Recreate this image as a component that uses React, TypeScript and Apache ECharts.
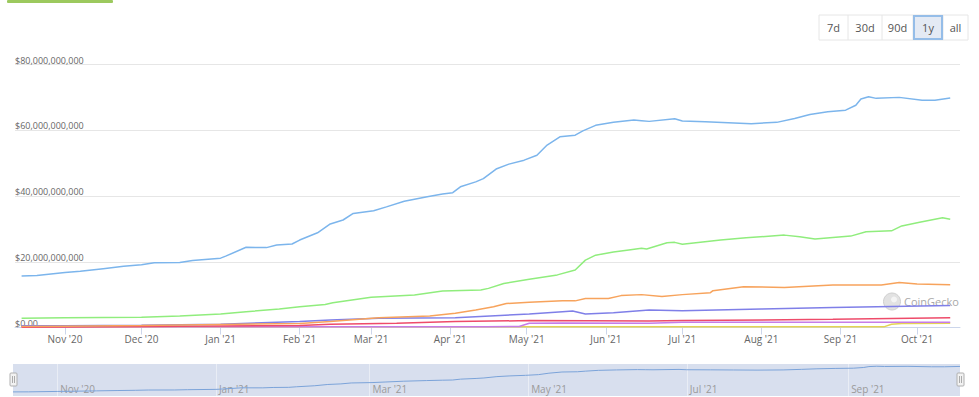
import React, { useEffect, useRef } from "react";
import * as echarts from "echarts";

// ---- Data (values in billions of USD) ----
const usdtDates = ["2020-10-15","2020-10-21","2020-11-01","2020-11-07","2020-11-16","2020-11-24","2020-12-01","2020-12-06","2020-12-16","2020-12-21","2021-01-01","2021-01-03","2021-01-11","2021-01-19","2021-01-23","2021-01-29","2021-02-01","2021-02-08","2021-02-13","2021-02-18","2021-02-22","2021-03-02","2021-03-07","2021-03-14","2021-03-23","2021-03-29","2021-04-02","2021-04-05","2021-04-11","2021-04-14","2021-04-19","2021-04-24","2021-04-30","2021-05-05","2021-05-09","2021-05-14","2021-05-20","2021-05-23","2021-05-28","2021-06-04","2021-06-12","2021-06-15","2021-06-18","2021-06-28","2021-07-01","2021-07-10","2021-07-19","2021-07-28","2021-08-07","2021-08-14","2021-08-20","2021-08-27","2021-09-03","2021-09-07","2021-09-09","2021-09-12","2021-09-15","2021-09-24","2021-10-03","2021-10-08","2021-10-14"];
const usdtValues = [15.7,15.8,16.7,17.1,17.9,18.6,19.1,19.7,19.8,20.4,21.1,21.7,24.4,24.3,25.1,25.4,26.6,28.8,31.5,32.7,34.7,35.5,36.7,38.4,39.8,40.6,41.0,42.8,44.3,45.3,48.2,49.7,50.9,52.4,55.5,58.0,58.5,59.8,61.5,62.4,63.1,62.9,62.7,63.5,62.8,62.6,62.3,62.0,62.4,63.6,64.8,65.6,66.1,67.6,69.5,70.2,69.7,70.0,69.1,69.1,69.8];

const usdcDates = ["2020-10-15","2020-11-01","2020-12-01","2020-12-16","2021-01-01","2021-01-11","2021-01-24","2021-02-01","2021-02-11","2021-02-14","2021-03-01","2021-03-18","2021-03-29","2021-04-13","2021-04-16","2021-04-22","2021-05-02","2021-05-13","2021-05-20","2021-05-24","2021-05-28","2021-06-04","2021-06-10","2021-06-15","2021-06-17","2021-06-25","2021-06-28","2021-07-01","2021-07-16","2021-07-26","2021-08-10","2021-08-16","2021-08-22","2021-09-05","2021-09-11","2021-09-21","2021-09-25","2021-10-02","2021-10-11","2021-10-14"];
const usdcValues = [2.8,3.0,3.1,3.5,4.1,4.8,5.6,6.3,7.0,7.5,9.2,9.9,11.1,11.4,11.9,13.4,14.7,16.0,17.5,20.5,22.0,23.0,23.6,24.1,23.9,25.8,25.9,25.3,26.6,27.3,28.1,27.6,26.9,27.8,29.1,29.4,30.9,32.0,33.4,32.9];

const busdDates = ["2020-10-15","2020-11-01","2020-12-01","2021-01-01","2021-02-01","2021-02-13","2021-03-04","2021-03-24","2021-04-03","2021-04-11","2021-04-18","2021-04-23","2021-05-02","2021-05-15","2021-05-20","2021-05-24","2021-06-02","2021-06-07","2021-06-15","2021-06-23","2021-07-01","2021-07-12","2021-07-13","2021-07-25","2021-08-10","2021-08-29","2021-09-17","2021-09-24","2021-10-01","2021-10-14"];
const busdValues = [0.3,0.4,0.6,0.9,1.2,1.8,3.0,3.5,4.3,5.3,6.3,7.3,7.7,8.1,8.1,8.8,8.8,9.7,10.0,9.4,10.0,10.6,11.2,12.4,12.2,12.9,12.9,13.7,13.2,13.0];

const daiDates = ["2020-10-15","2020-11-01","2020-12-01","2021-01-01","2021-02-01","2021-02-13","2021-03-04","2021-04-03","2021-05-02","2021-05-15","2021-05-19","2021-05-24","2021-06-04","2021-06-18","2021-07-01","2021-08-01","2021-08-29","2021-10-14"];
const daiValues = [0.5,0.5,0.7,1.0,1.8,2.3,2.8,3.0,4.1,4.8,5.0,4.1,4.5,5.3,5.1,5.6,6.1,6.7];

const ustDates = ["2020-10-15","2020-12-01","2021-01-01","2021-02-01","2021-02-13","2021-03-11","2021-04-03","2021-05-02","2021-06-18","2021-07-01","2021-08-29","2021-10-14"];
const ustValues = [0.1,0.3,0.45,0.6,1.0,1.3,1.8,2.1,2.0,2.1,2.5,3.0];

const violetDates = ["2020-10-15","2021-02-01","2021-04-15","2021-04-28","2021-05-02","2021-05-15","2021-06-18","2021-07-01","2021-09-20","2021-10-14"];
const violetValues = [0.2,0.2,0.25,0.3,1.3,1.4,1.3,1.6,1.6,1.6];

const yellowDates = ["2020-10-15","2021-09-18","2021-09-21","2021-09-25","2021-10-14"];
const yellowValues = [0.2,0.2,1.0,1.2,1.3];

const monthTicks = ["2020-11-01","2020-12-01","2021-01-01","2021-02-01","2021-03-01","2021-04-01","2021-05-01","2021-06-01","2021-07-01","2021-08-01","2021-09-01","2021-10-01"];
const navTicks = ["2020-11-01","2021-01-01","2021-03-01","2021-05-01","2021-07-01","2021-09-01"];
const rangeButtons = ["7d", "30d", "90d", "1y", "all"];
const selectedButton = "1y";

const MONTHS = ["Jan","Feb","Mar","Apr","May","Jun","Jul","Aug","Sep","Oct","Nov","Dec"];
const ts = (s: string) => {
  const [y, m, d] = s.split("-").map(Number);
  return Date.UTC(y, m - 1, d);
};
const pairs = (dates: string[], vals: number[]) => dates.map((d, i) => [ts(d), vals[i] * 1e9]);
const fmtMonth = (v: number) => {
  const dt = new Date(v);
  return MONTHS[dt.getUTCMonth()] + " '" + String(dt.getUTCFullYear()).slice(2);
};

const FONT = "'Open Sans', 'Noto Sans', sans-serif";

export default function App() {
  const ref = useRef<HTMLDivElement>(null);
  useEffect(() => {
    if (!ref.current) return;
    const chart = echarts.init(ref.current, null, { renderer: "svg" });

    const lineSeries = (name: string, color: string, dates: string[], vals: number[], z: number) => ({
      name,
      type: "line",
      xAxisIndex: 0,
      yAxisIndex: 0,
      data: pairs(dates, vals),
      showSymbol: false,
      symbol: "none",
      lineStyle: { color, width: 1.5 },
      itemStyle: { color },
      z,
    });

    const btnEdges = [819, 848, 882, 913, 943, 968];
    const btnTop = 15;
    const btnH = 25;
    const buttonGraphics: any[] = [
      { type: "rect", shape: { x: btnEdges[0], y: btnTop, width: btnEdges[5] - btnEdges[0], height: btnH }, style: { fill: "#fff", stroke: "#e6e6e6", lineWidth: 1 } },
    ];
    rangeButtons.forEach((label, i) => {
      const x0 = btnEdges[i];
      const x1 = btnEdges[i + 1];
      if (i > 0) {
        buttonGraphics.push({ type: "line", shape: { x1: x0, y1: btnTop, x2: x0, y2: btnTop + btnH }, style: { stroke: "#e6e6e6", lineWidth: 1 } });
      }
      if (label === selectedButton) {
        buttonGraphics.push({ type: "rect", shape: { x: x0 + 1, y: btnTop + 1, width: x1 - x0 - 2, height: btnH - 2 }, style: { fill: "#e4eaf4", stroke: "#95bde8", lineWidth: 2 }, z: 2 });
      }
      buttonGraphics.push({
        type: "text",
        x: (x0 + x1) / 2,
        y: btnTop + btnH / 2,
        style: { text: label, fill: "#555", font: `11px ${FONT}`, align: "center", verticalAlign: "middle" },
        z: 3,
      });
    });

    const handle = (x: number) => ({
      type: "group",
      children: [
        { type: "rect", shape: { x, y: 373, width: 7, height: 13, r: 1 }, style: { fill: "#f2f2f2", stroke: "#b0b0b0", lineWidth: 1 } },
        { type: "line", shape: { x1: x + 2.5, y1: 376, x2: x + 2.5, y2: 383 }, style: { stroke: "#999", lineWidth: 0.8 } },
        { type: "line", shape: { x1: x + 4.5, y1: 376, x2: x + 4.5, y2: 383 }, style: { stroke: "#999", lineWidth: 0.8 } },
      ],
      z: 10,
    });

    chart.setOption({
      animation: false,
      textStyle: { fontFamily: FONT },
      grid: [
        { left: 15, right: 19, top: 64.5, bottom: 69.5 },
        { left: 13, right: 19, top: 364, bottom: 1, show: true, backgroundColor: "#d8dfee", borderWidth: 0 },
      ],
      xAxis: [
        {
          type: "value",
          gridIndex: 0,
          min: Date.UTC(2020, 9, 12, 10),
          max: Date.UTC(2021, 9, 17, 20),
          axisLine: { lineStyle: { color: "#ccd6eb", width: 1 } },
          axisTick: { show: true, length: 7, lineStyle: { color: "#ccd6eb" }, customValues: monthTicks.map(ts) },
          axisLabel: { color: "#666", fontSize: 10, margin: 6, customValues: monthTicks.map(ts), formatter: (v: number) => fmtMonth(v), showMinLabel: true, showMaxLabel: true },
          splitLine: { show: false },
        },
        {
          type: "value",
          gridIndex: 1,
          min: ts("2020-10-15"),
          max: ts("2021-10-14"),
          axisLine: { show: false },
          axisTick: { show: true, inside: true, length: 32, lineStyle: { color: "#e9edf5", width: 1 }, customValues: navTicks.map(ts) },
          axisLabel: { inside: true, color: "#9a9a9a", fontSize: 10, margin: 2, align: "left", padding: [0, 0, 0, 3], customValues: navTicks.map(ts), formatter: (v: number) => fmtMonth(v) },
          splitLine: { show: false },
        },
      ],
      yAxis: [
        {
          type: "value",
          gridIndex: 0,
          min: 0,
          max: 80e9,
          interval: 20e9,
          axisLine: { show: false },
          axisTick: { show: false },
          splitLine: { lineStyle: { color: "#e6e6e6", width: 1 } },
          axisLabel: {
            inside: true,
            margin: 0,
            align: "left",
            verticalAlign: "bottom",
            lineHeight: 9,
            padding: 0,
            color: "#666",
            fontSize: 9,
            formatter: (v: number) => (v === 0 ? "$0.00" : "$" + Math.round(v).toLocaleString("en-US")),
          },
        },
        { type: "value", gridIndex: 1, min: 7e9, max: 75e9, show: false, splitLine: { show: false } },
      ],
      series: [
        lineSeries("Tether", "#7cb5ec", usdtDates, usdtValues, 9),
        lineSeries("USD Coin", "#90ed7d", usdcDates, usdcValues, 8),
        lineSeries("Binance USD", "#f7a35c", busdDates, busdValues, 7),
        lineSeries("Dai", "#7f7fe8", daiDates, daiValues, 6),
        lineSeries("TerraUSD", "#ee4b6a", ustDates, ustValues, 5),
        lineSeries("Other", "#c77ce8", violetDates, violetValues, 4),
        lineSeries("Other 2", "#e4d354", yellowDates, yellowValues, 3),
        {
          name: "Navigator",
          type: "line",
          xAxisIndex: 1,
          yAxisIndex: 1,
          data: pairs(usdtDates, usdtValues),
          showSymbol: false,
          symbol: "none",
          lineStyle: { color: "#7ba3d9", width: 1 },
          silent: true,
        },
      ],
      graphic: [
        { type: "rect", shape: { x: 7, y: 0, width: 106, height: 3, r: 1 }, style: { fill: "#9cc95e" } },
        ...buttonGraphics,
        {
          type: "group",
          children: [
            { type: "circle", shape: { cx: 892, cy: 301.5, r: 8.5 }, style: { fill: "#e2e2e2", stroke: "#cfcfcf", lineWidth: 1 } },
            { type: "circle", shape: { cx: 894, cy: 299.5, r: 3 }, style: { fill: "#f4f4f4" } },
            { type: "text", x: 904, y: 301.5, style: { text: "CoinGecko", fill: "#a8a8a8", font: `11px ${FONT}`, align: "left", verticalAlign: "middle" } },
          ],
          z: 1,
        },
        handle(10),
        handle(957),
      ],
    });
    return () => chart.dispose();
  }, []);
  return <div ref={ref} style={{ position: "absolute", left: 0, top: 0, width: 979, height: 397 }} />;
}
